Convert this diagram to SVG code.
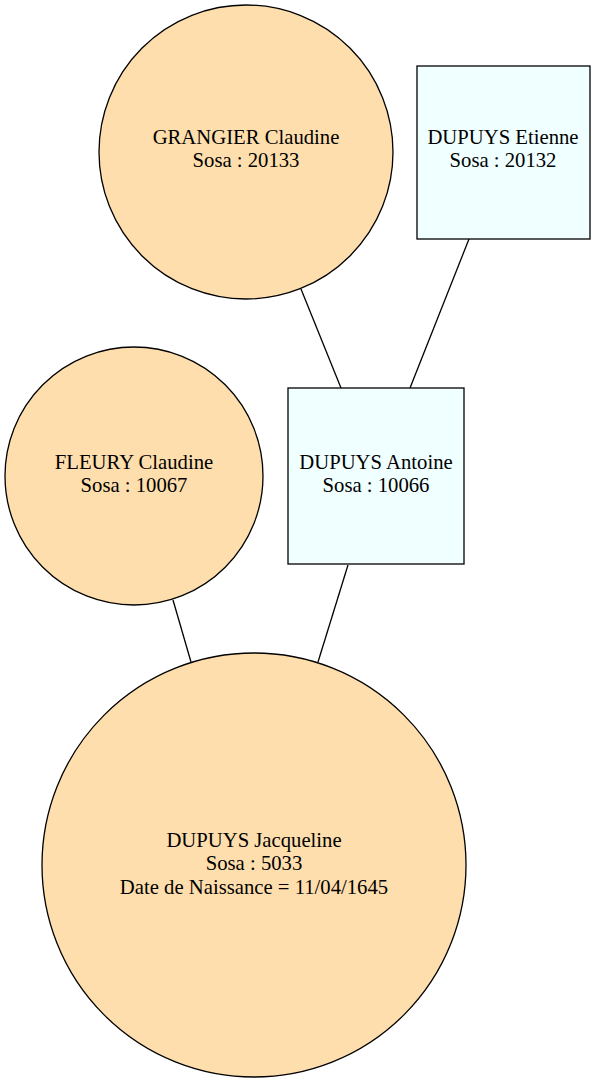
<svg xmlns="http://www.w3.org/2000/svg" width="596" height="1083" viewBox="0 0 596 1083">
<style>
.f{fill:#ffdead;stroke:#000;stroke-width:1.3}
.m{fill:#f0ffff;stroke:#000;stroke-width:1.3}
text{font-family:"Liberation Serif","Times New Roman",serif;font-size:20.7px;text-anchor:middle;fill:#000}
.e{stroke:#000;stroke-width:1.3;fill:none}
</style>
<rect width="596" height="1083" fill="#fff"/>
<g id="edges">
<line class="e" x1="301" y1="289" x2="341" y2="388"/>
<line class="e" x1="469" y1="239" x2="410" y2="388"/>
<line class="e" x1="173" y1="600" x2="191" y2="662"/>
<line class="e" x1="348" y1="565" x2="318" y2="662"/>
</g>
<g id="n20133">
<circle class="f" cx="246" cy="152" r="147"/>
<text x="246" y="144">GRANGIER Claudine</text>
<text x="246" y="167">Sosa : 20133</text>
</g>
<g id="n20132">
<rect class="m" x="417" y="66" width="173" height="173"/>
<text x="503" y="144">DUPUYS Etienne</text>
<text x="503" y="167">Sosa : 20132</text>
</g>
<g id="n10067">
<circle class="f" cx="134" cy="476" r="129"/>
<text x="134" y="469">FLEURY Claudine</text>
<text x="134" y="492">Sosa : 10067</text>
</g>
<g id="n10066">
<rect class="m" x="288" y="388" width="176" height="176"/>
<text x="376" y="469">DUPUYS Antoine</text>
<text x="376" y="492">Sosa : 10066</text>
</g>
<g id="n5033">
<circle class="f" cx="254" cy="865" r="212"/>
<text x="254" y="847">DUPUYS Jacqueline</text>
<text x="254" y="870">Sosa : 5033</text>
<text x="254" y="894">Date de Naissance = 11/04/1645</text>
</g>
</svg>
